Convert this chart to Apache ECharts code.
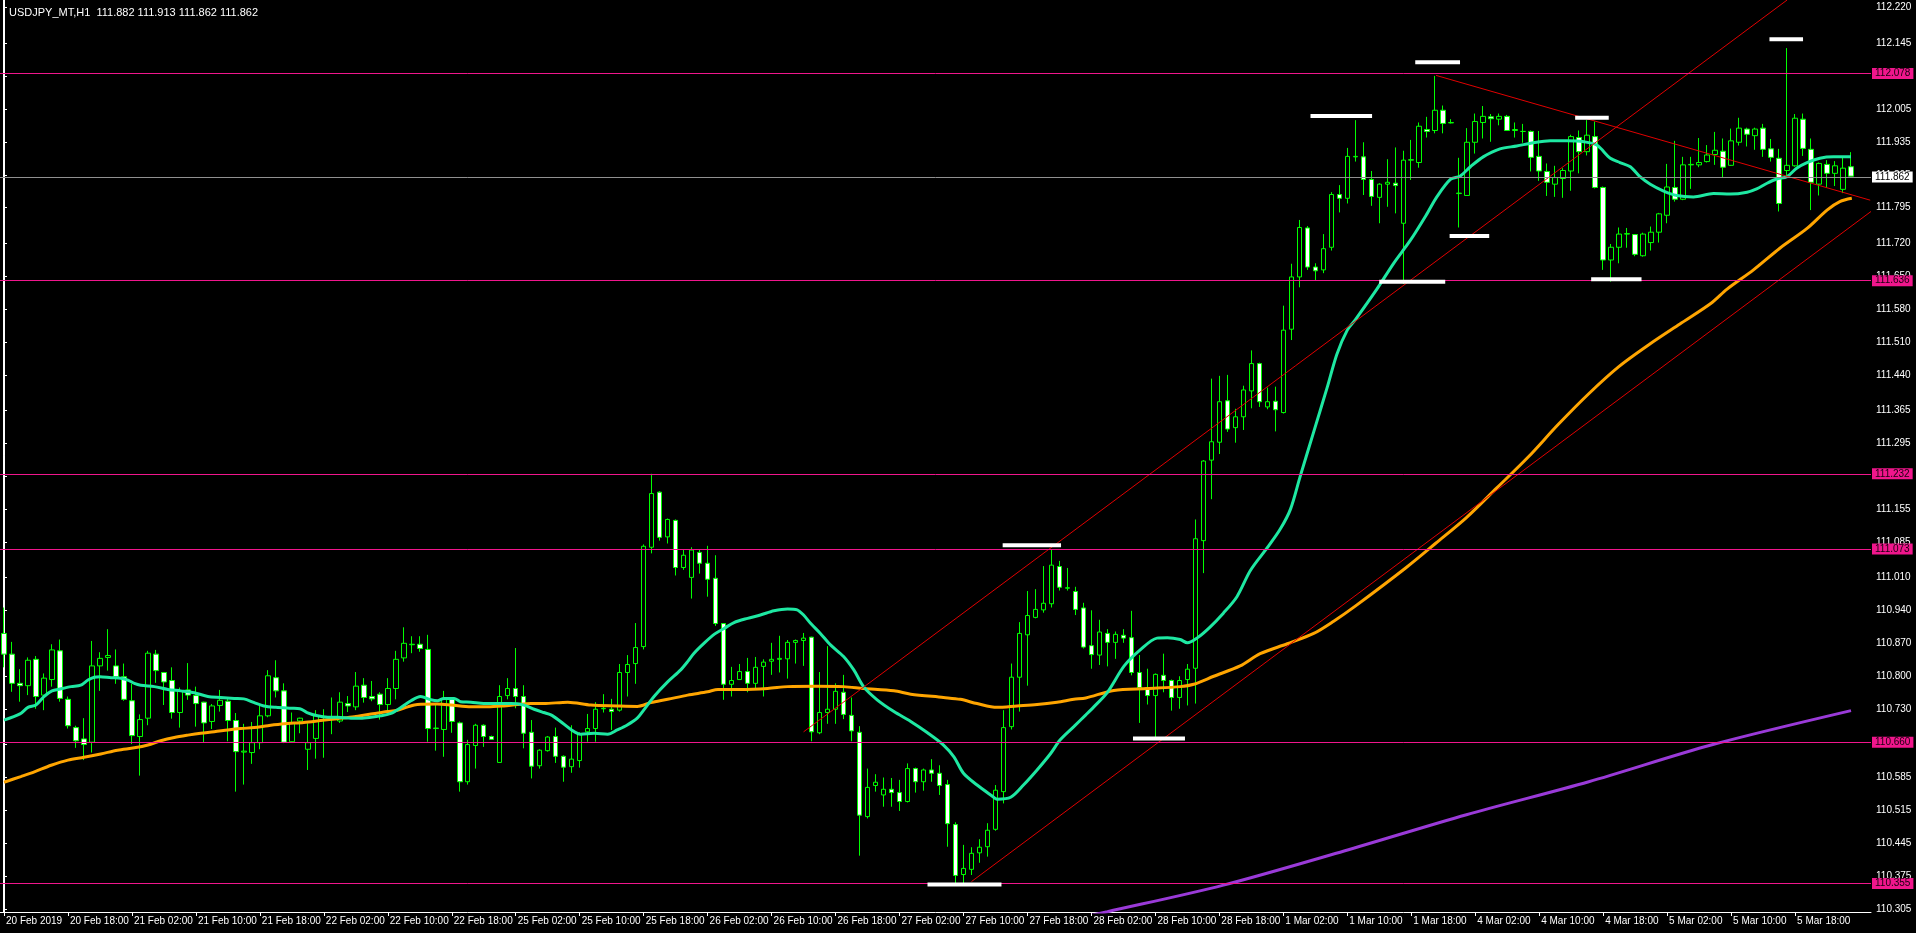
<!DOCTYPE html>
<html><head><meta charset="utf-8">
<script src="https://cdn.jsdelivr.net/npm/echarts@6/dist/echarts.min.js"></script>
<style>html,body{margin:0;padding:0;background:#000;overflow:hidden}#c{width:1916px;height:933px}</style>
</head><body><div id="c"></div>
<script>
const titleText = 'USDJPY_MT,H1  111.882 111.913 111.862 111.862';
const sessions = [['20 Feb',10,23],['21 Feb',0,23],['22 Feb',0,23],['25 Feb',0,23],['26 Feb',0,23],['27 Feb',0,23],['28 Feb',0,23],['1 Mar',0,23],['4 Mar',0,23],['5 Mar',0,23],['6 Mar',0,3]];
const xTickLabels = ['20 Feb 2019','20 Feb 18:00','21 Feb 02:00','21 Feb 10:00','21 Feb 18:00','22 Feb 02:00','22 Feb 10:00','22 Feb 18:00','25 Feb 02:00','25 Feb 10:00','25 Feb 18:00','26 Feb 02:00','26 Feb 10:00','26 Feb 18:00','27 Feb 02:00','27 Feb 10:00','27 Feb 18:00','28 Feb 02:00','28 Feb 10:00','28 Feb 18:00','1 Mar 02:00','1 Mar 10:00','1 Mar 18:00','4 Mar 02:00','4 Mar 10:00','4 Mar 18:00','5 Mar 02:00','5 Mar 10:00','5 Mar 18:00'];
const yTickValues = [112.220,112.145,112.075,112.005,111.935,111.865,111.795,111.720,111.650,111.580,111.510,111.440,111.365,111.295,111.225,111.155,111.085,111.010,110.940,110.870,110.800,110.730,110.655,110.585,110.515,110.445,110.375,110.305];

// [open, high, low, close]
const candles = [
[110.891,110.946,110.819,110.847],[110.847,110.873,110.767,110.785],[110.785,110.815,110.746,110.780],[110.780,110.840,110.760,110.834],
[110.836,110.843,110.731,110.757],[110.760,110.806,110.728,110.796],[110.793,110.868,110.778,110.856],[110.854,110.878,110.746,110.753],
[110.751,110.757,110.689,110.695],[110.691,110.695,110.648,110.663],[110.667,110.711,110.622,110.655],[110.660,110.875,110.638,110.822],
[110.822,110.851,110.769,110.838],[110.840,110.900,110.812,110.844],[110.822,110.857,110.784,110.799],[110.799,110.827,110.748,110.751],
[110.748,110.784,110.656,110.674],[110.672,110.719,110.589,110.708],[110.711,110.854,110.696,110.849],[110.847,110.856,110.786,110.812],
[110.808,110.809,110.739,110.788],[110.791,110.819,110.710,110.723],[110.723,110.776,110.691,110.769],[110.771,110.828,110.750,110.760],
[110.759,110.778,110.693,110.742],[110.745,110.746,110.660,110.701],[110.704,110.741,110.688,110.737],[110.738,110.771,110.725,110.749],
[110.747,110.753,110.662,110.706],[110.706,110.722,110.555,110.640],[110.639,110.699,110.570,110.641],[110.638,110.703,110.614,110.659],
[110.659,110.741,110.645,110.716],[110.716,110.813,110.713,110.801],[110.797,110.834,110.755,110.769],[110.769,110.785,110.658,110.660],
[110.661,110.723,110.660,110.700],[110.705,110.712,110.679,110.711],[110.645,110.700,110.601,110.659],[110.668,110.728,110.625,110.716],
[110.713,110.730,110.627,110.714],[110.710,110.755,110.677,110.714],[110.705,110.766,110.701,110.745],[110.742,110.758,110.724,110.737],
[110.735,110.809,110.728,110.779],[110.781,110.796,110.744,110.755],[110.757,110.790,110.747,110.752],[110.762,110.766,110.708,110.740],
[110.740,110.796,110.728,110.774],[110.774,110.854,110.751,110.836],[110.839,110.904,110.831,110.870],[110.867,110.885,110.849,110.868],
[110.868,110.885,110.852,110.859],[110.857,110.888,110.661,110.689],[110.689,110.740,110.642,110.690],[110.687,110.769,110.629,110.751],
[110.753,110.755,110.680,110.704],[110.701,110.704,110.555,110.576],[110.576,110.665,110.570,110.655],[110.653,110.699,110.604,110.696],
[110.696,110.698,110.650,110.672],[110.672,110.674,110.665,110.666],[110.617,110.781,110.617,110.757],[110.759,110.796,110.751,110.774],
[110.774,110.860,110.732,110.757],[110.757,110.781,110.647,110.679],[110.681,110.707,110.583,110.609],[110.610,110.645,110.604,110.643],
[110.642,110.673,110.640,110.671],[110.672,110.691,110.616,110.630],[110.630,110.632,110.576,110.607],[110.608,110.696,110.595,110.624],
[110.621,110.681,110.606,110.677],[110.682,110.720,110.661,110.689],[110.689,110.745,110.661,110.730],[110.731,110.762,110.723,110.732],
[110.730,110.752,110.686,110.725],[110.728,110.826,110.725,110.808],[110.808,110.845,110.757,110.825],[110.827,110.913,110.784,110.861],
[110.863,111.080,110.857,111.076],[111.074,111.230,111.061,111.188],[111.191,111.193,111.088,111.095],[111.096,111.135,111.082,111.133],
[111.131,111.133,111.014,111.031],[111.031,111.070,111.026,111.057],[111.010,111.074,110.965,111.068],[111.063,111.070,111.018,111.040],
[111.040,111.077,110.969,111.006],[111.008,111.057,110.907,110.912],[110.912,110.913,110.750,110.783],[110.783,110.820,110.757,110.791],
[110.793,110.826,110.792,110.810],[110.810,110.839,110.766,110.785],[110.785,110.841,110.774,110.819],[110.821,110.836,110.757,110.830],
[110.832,110.871,110.803,110.836],[110.836,110.886,110.808,110.838],[110.837,110.877,110.795,110.872],[110.872,110.878,110.827,110.876],
[110.876,110.892,110.822,110.881],[110.883,110.884,110.662,110.682],[110.680,110.809,110.677,110.723],[110.723,110.864,110.699,110.730],
[110.730,110.785,110.699,110.768],[110.766,110.803,110.709,110.719],[110.717,110.755,110.662,110.684],[110.681,110.694,110.419,110.505],
[110.502,110.604,110.498,110.564],[110.568,110.592,110.555,110.575],[110.548,110.585,110.523,110.560],[110.560,110.584,110.523,110.553],
[110.553,110.580,110.514,110.534],[110.534,110.615,110.532,110.604],[110.604,110.606,110.553,110.576],[110.576,110.604,110.557,110.601],
[110.601,110.624,110.576,110.594],[110.594,110.611,110.548,110.568],[110.570,110.580,110.438,110.487],[110.485,110.490,110.360,110.377],
[110.379,110.442,110.360,110.392],[110.390,110.437,110.378,110.424],[110.425,110.454,110.404,110.437],[110.438,110.488,110.417,110.473],
[110.475,110.569,110.472,110.558],[110.555,110.728,110.530,110.691],[110.693,110.827,110.687,110.798],[110.798,110.915,110.725,110.891],
[110.888,110.981,110.780,110.929],[110.925,110.985,110.923,110.942],[110.941,111.034,110.935,110.955],[110.954,111.070,110.946,111.036],
[111.033,111.045,110.982,110.989],[110.987,111.030,110.982,110.988],[110.980,110.990,110.930,110.942],[110.945,110.956,110.859,110.862],
[110.865,110.940,110.816,110.846],[110.845,110.920,110.824,110.894],[110.891,110.900,110.821,110.872],[110.872,110.895,110.837,110.889],
[110.887,110.900,110.871,110.881],[110.882,110.939,110.802,110.808],[110.808,110.845,110.701,110.776],[110.776,110.816,110.740,110.759],
[110.759,110.806,110.670,110.804],[110.802,110.848,110.766,110.791],[110.791,110.793,110.727,110.755],[110.755,110.800,110.731,110.791],
[110.793,110.826,110.738,110.815],[110.817,111.133,110.742,111.092],[111.088,111.259,111.019,111.257],[111.259,111.432,111.176,111.298],
[111.297,111.438,111.272,111.383],[111.385,111.440,111.319,111.325],[111.328,111.368,111.296,111.351],[111.351,111.417,111.323,111.408],
[111.406,111.492,111.369,111.464],[111.464,111.466,111.372,111.383],[111.372,111.413,111.367,111.383],[111.384,111.415,111.320,111.366],
[111.360,111.587,111.358,111.535],[111.537,111.676,111.514,111.648],[111.648,111.769,111.626,111.753],[111.752,111.756,111.663,111.669],
[111.669,111.677,111.641,111.661],[111.663,111.739,111.656,111.708],[111.711,111.828,111.704,111.823],[111.823,111.843,111.785,111.815],
[111.815,111.922,111.804,111.904],[111.903,111.981,111.893,111.904],[111.903,111.934,111.822,111.855],[111.855,111.873,111.799,111.819],
[111.817,111.847,111.762,111.845],[111.845,111.898,111.797,111.849],[111.847,111.923,111.783,111.842],[111.762,111.916,111.633,111.896],
[111.896,111.939,111.854,111.897],[111.891,111.976,111.880,111.968],[111.961,111.988,111.944,111.957],[111.959,112.075,111.953,112.002],
[112.002,112.012,111.953,111.974],[111.975,111.983,111.974,111.976],[111.825,111.901,111.753,111.826],[111.821,111.964,111.821,111.934],
[111.934,111.995,111.910,111.978],[111.976,112.011,111.942,111.989],[111.988,111.994,111.935,111.984],[111.983,111.995,111.970,111.989],
[111.989,111.992,111.958,111.959],[111.959,111.976,111.944,111.961],[111.957,111.973,111.933,111.957],[111.957,111.959,111.872,111.902],
[111.904,111.958,111.852,111.873],[111.872,111.889,111.820,111.849],[111.845,111.884,111.818,111.859],[111.857,111.879,111.816,111.874],
[111.873,111.950,111.831,111.946],[111.944,111.959,111.868,111.914],[111.914,111.981,111.906,111.949],[111.946,111.978,111.836,111.838],
[111.838,111.840,111.663,111.684],[111.684,111.718,111.638,111.711],[111.711,111.753,111.677,111.739],[111.739,111.752,111.710,111.740],
[111.738,111.739,111.692,111.696],[111.693,111.742,111.691,111.739],[111.721,111.755,111.704,111.743],[111.743,111.784,111.721,111.782],
[111.779,111.888,111.762,111.839],[111.838,111.937,111.808,111.813],[111.813,111.903,111.811,111.886],[111.886,111.903,111.835,111.887],
[111.886,111.943,111.881,111.891],[111.893,111.928,111.891,111.907],[111.908,111.956,111.886,111.917],[111.915,111.942,111.860,111.881],
[111.885,111.963,111.884,111.937],[111.934,111.986,111.927,111.964],[111.962,111.965,111.925,111.951],[111.948,111.965,111.918,111.962],
[111.964,111.973,111.903,111.919],[111.920,111.941,111.893,111.902],[111.900,111.920,111.787,111.804],[111.874,112.134,111.862,111.885],
[111.884,111.994,111.882,111.985],[111.983,111.995,111.905,111.921],[111.919,111.942,111.790,111.849],[111.845,111.891,111.821,111.889],
[111.887,111.896,111.837,111.868],[111.868,111.894,111.841,111.884],[111.834,111.903,111.826,111.879],[111.882,111.913,111.862,111.862]
];

// moving averages read at bar positions [barIndex, price]
const maGreen = [[0,110.707],[2,110.720],[3,110.734],[4,110.739],[5,110.757],[6,110.769],[7,110.773],[8.4,110.778],[9.6,110.781],[10.5,110.792],[11.3,110.798],[12,110.799],[13.4,110.797],[14.6,110.796],[15.5,110.792],[16.3,110.785],[17.1,110.781],[18.8,110.778],[20.5,110.772],[22.1,110.769],[23.8,110.765],[25.5,110.757],[27.1,110.755],[28.8,110.753],[30,110.752],[31.3,110.744],[32.5,110.737],[34,110.734],[35.9,110.732],[37,110.731],[37.9,110.723],[39.2,110.716],[40.5,110.713],[41.7,110.713],[43.4,110.711],[44.6,110.711],[45.9,110.713],[47.1,110.716],[48.4,110.721],[49.6,110.733],[50.9,110.748],[52.1,110.757],[53.4,110.750],[54.2,110.748],[55,110.753],[56.3,110.753],[57.1,110.746],[58.4,110.745],[60,110.742],[61.7,110.742],[63.4,110.742],[65,110.739],[66.3,110.730],[67.5,110.723],[68.4,110.718],[69.6,110.704],[70.9,110.687],[72.1,110.677],[73.8,110.679],[75.5,110.677],[76.7,110.686],[77.9,110.696],[79.2,110.711],[80,110.728],[81.3,110.757],[83,110.788],[84.6,110.813],[85.5,110.831],[86.3,110.849],[87.6,110.871],[88.9,110.890],[90.1,110.902],[91.3,110.914],[93,110.923],[94.6,110.930],[96.3,110.939],[98,110.943],[99.2,110.941],[100,110.930],[100.9,110.912],[102.1,110.891],[103.4,110.866],[105,110.842],[106.3,110.813],[107.5,110.778],[109.2,110.750],[111.3,110.725],[113.4,110.704],[115.5,110.680],[117.5,110.654],[118.8,110.629],[120,110.594],[121.7,110.569],[123.4,110.548],[124.2,110.539],[125.9,110.543],[127.5,110.569],[129.2,110.601],[130.9,110.636],[132.1,110.665],[133.8,110.693],[135.3,110.718],[136.3,110.735],[138,110.766],[140.1,110.822],[142.1,110.856],[144.2,110.881],[145.5,110.882],[147.1,110.878],[148,110.871],[149.2,110.881],[150.8,110.904],[152.5,110.934],[154.2,110.969],[155.9,111.025],[158,111.073],[159.6,111.112],[160.9,111.155],[162.1,111.224],[163.8,111.319],[165.5,111.414],[166.7,111.484],[168,111.535],[169,111.557],[171.7,111.622],[173.8,111.677],[175.9,111.726],[178,111.783],[179.2,111.818],[180.9,111.855],[182.1,111.862],[183.4,111.882],[185,111.903],[187.1,111.920],[189.2,111.926],[191.3,111.933],[193.4,111.937],[195.5,111.937],[197.6,111.935],[199.2,111.928],[200.9,111.900],[202.1,111.891],[203.4,111.882],[204.6,111.861],[205.9,111.845],[207.5,111.831],[209.2,111.821],[211.3,111.818],[213.8,111.825],[215.9,111.824],[218,111.828],[219.2,111.835],[220.5,111.847],[221.7,111.856],[223,111.861],[224.2,111.879],[225.5,111.891],[227.1,111.900],[228.8,111.903],[231,111.903]];
const maOrange = [[0,110.575],[2.1,110.587],[3.8,110.597],[5.9,110.611],[8,110.622],[10,110.628],[12.1,110.635],[14.2,110.643],[16.3,110.648],[18,110.654],[19.6,110.663],[21.3,110.670],[23,110.675],[24.6,110.679],[26.3,110.682],[28,110.686],[29.6,110.689],[31.3,110.691],[33,110.695],[35,110.699],[37.5,110.702],[39.6,110.706],[41.7,110.710],[43.8,110.714],[45.9,110.720],[48,110.725],[49.2,110.728],[50.5,110.735],[51.7,110.740],[54.2,110.741],[55.9,110.739],[58.4,110.735],[60.5,110.735],[62.5,110.737],[64.2,110.740],[65.9,110.742],[67.5,110.742],[70.5,110.745],[73.4,110.739],[76.7,110.737],[79.2,110.736],[80.9,110.744],[83,110.751],[85.5,110.760],[88,110.767],[89.3,110.772],[92.1,110.772],[95.5,110.774],[98,110.778],[101.5,110.779],[105,110.778],[107.5,110.774],[111.3,110.769],[113.4,110.762],[117.5,110.755],[119.6,110.751],[121.7,110.742],[124.2,110.734],[126.7,110.737],[129.2,110.740],[131.7,110.745],[133.8,110.751],[135.3,110.754],[138.8,110.770],[143,110.774],[147.1,110.778],[148.8,110.783],[151.3,110.800],[154.6,110.822],[157.1,110.848],[160.5,110.869],[163.8,110.891],[166.3,110.917],[169,110.949],[175.3,111.030],[179.1,111.083],[182.9,111.137],[186.7,111.200],[190.6,111.265],[194.4,111.335],[198.2,111.400],[202,111.458],[205.8,111.505],[209.6,111.548],[213.5,111.592],[215.5,111.622],[218.8,111.663],[222.1,111.709],[225.5,111.751],[228,111.790],[229.6,111.808],[231.1,111.815]];
const maPurple = [[134,110.285],[138,110.300],[152.4,110.356],[167.6,110.429],[182.9,110.506],[198.2,110.576],[213.5,110.654],[231,110.727]];

const levels = [112.078, 111.636, 111.232, 111.073, 110.660, 110.355];
const lastPrice = 111.862;
// [barFrom, priceFrom, barTo, priceTo]
const trendLines = [[100,110.682,223,112.236],[121,110.364,233.5,111.787],[179.1,112.076,233.4,111.811]];
// [barFrom, barTo, price]
const swingMarks = [[115.5,124.75,110.358],[124.9,132.2,111.078],[141.2,147.7,110.668],[163.4,171.1,111.990],[172.0,180.25,111.638],[176.5,182.1,112.104],[180.8,185.75,111.735],[196.5,200.7,111.986],[198.5,204.8,111.643],[220.8,225.0,112.153]];

const categories = [];
sessions.forEach(s => { for (let h = s[1]; h <= s[2]; h++) categories.push(s[0] + ' ' + (h < 10 ? '0' : '') + h + ':00'); });

const FONT = 'Liberation Sans';
const showTick = (idx) => idx % 8 === 0 && idx / 8 < xTickLabels.length;

const series = [];
series.push({
  type: 'candlestick', xAxisIndex: 0, yAxisIndex: 0, barWidth: 5, z: 2,
  data: candles.map(c => [c[0], c[3], c[2], c[1]]),
  itemStyle: { color: '#000000', color0: '#ffffff', borderColor: '#00ff00', borderColor0: '#00ff00', borderColorDoji: '#00ff00', borderWidth: 1 },
  markLine: {
    silent: true, symbol: ['none', 'none'], animation: false,
    data: levels.map(v => ({ yAxis: v, lineStyle: { color: '#f0168c', width: 1, type: 'solid' },
        label: { show: true, position: 'end', distance: 1, formatter: v.toFixed(3), backgroundColor: '#f0168c', color: '#1a0010', fontFamily: FONT, fontSize: 10, padding: [1, 3, 0, 3] } }))
      .concat([{ yAxis: lastPrice, lineStyle: { color: '#909090', width: 1, type: 'solid' },
        label: { show: true, position: 'end', distance: 1, formatter: lastPrice.toFixed(3), backgroundColor: '#ffffff', color: '#000000', fontFamily: FONT, fontSize: 10, padding: [1, 3, 0, 3] } }])
  }
});
series.push({ type: 'line', xAxisIndex: 1, data: maPurple, showSymbol: false, smooth: 0.3, lineStyle: { color: '#9a3ad8', width: 3 }, z: 3 });
series.push({ type: 'line', xAxisIndex: 1, data: maOrange, showSymbol: false, smooth: 0.3, lineStyle: { color: '#ffa500', width: 3 }, z: 3 });
series.push({ type: 'line', xAxisIndex: 1, data: maGreen, showSymbol: false, smooth: 0.3, lineStyle: { color: '#1ee8a2', width: 3 }, z: 3 });
trendLines.forEach(t => series.push({ type: 'line', xAxisIndex: 1, data: [[t[0], t[1]], [t[2], t[3]]], showSymbol: false, lineStyle: { color: '#e00000', width: 1 }, z: 4 }));
swingMarks.forEach(m => series.push({ type: 'line', xAxisIndex: 1, data: [[m[0], m[2]], [m[1], m[2]]], showSymbol: false, lineStyle: { color: '#ffffff', width: 4, cap: 'butt' }, z: 5 }));

const chart = echarts.init(document.getElementById('c'), null, { renderer: 'canvas' });
chart.setOption({
  animation: false,
  backgroundColor: '#000000',
  title: { text: titleText, left: 4, top: 2, textStyle: { color: '#ffffff', fontFamily: FONT, fontSize: 11, fontWeight: 'normal' } },
  grid: { left: -1, right: 45, top: 0, bottom: 21, containLabel: false },
  xAxis: [
    { type: 'category', data: categories, boundaryGap: true,
      axisLine: { show: true, lineStyle: { color: '#ffffff', width: 1 } },
      axisTick: { show: true, alignWithLabel: true, length: 4, interval: showTick, lineStyle: { color: '#ffffff' } },
      axisLabel: { show: true, interval: showTick, formatter: (v, i) => xTickLabels[i / 8], align: 'left', padding: [0, 0, 0, 2], margin: 4, color: '#ffffff', fontFamily: FONT, fontSize: 10 },
      splitLine: { show: false } },
    { type: 'value', min: -0.5, max: 233.5, show: false }
  ],
  yAxis: [
    { type: 'value', position: 'right', min: 110.2994, max: 112.2361,
      axisLine: { show: true, lineStyle: { color: '#ffffff', width: 1 } },
      axisTick: { show: true, length: 3, customValues: yTickValues, lineStyle: { color: '#ffffff' } },
      axisLabel: { show: true, customValues: yTickValues, formatter: v => v.toFixed(3), margin: 5, color: '#ffffff', fontFamily: FONT, fontSize: 10 },
      splitLine: { show: false } },
    { type: 'value', position: 'left', offset: -3, min: 110.2994, max: 112.2361,
      axisLine: { show: true, lineStyle: { color: '#ffffff', width: 1 } },
      axisTick: { show: false }, axisLabel: { show: false }, splitLine: { show: false } }
  ],
  series: series
});
</script>
</body></html>
